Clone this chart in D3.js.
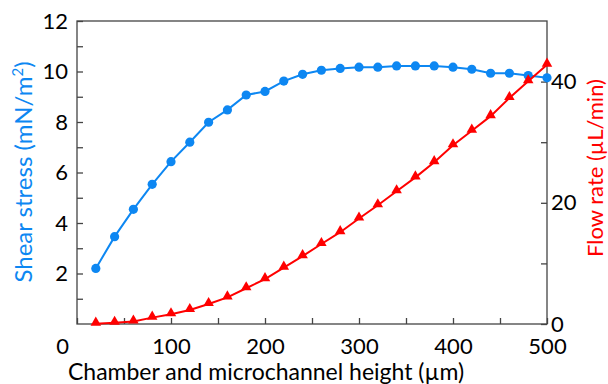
<!DOCTYPE html>
<html>
<head>
<meta charset="utf-8">
<script src="https://cdn.jsdelivr.net/npm/d3@7"></script>
<style>
  body { margin: 0; background: #fff; }
  text { font-family: Lato, "Open Sans", sans-serif; }
</style>
</head>
<body>
<div id="chart"></div>
<script>
// channel height (um)
var heights = [20, 40, 60, 80, 100, 120, 140, 160, 180, 200, 220, 240, 260,
               280, 300, 320, 340, 360, 380, 400, 420, 440, 460, 480, 500]
// shear stress (mN/m2), left axis
var shear = [2.2, 3.46, 4.54, 5.53, 6.43, 7.2, 7.99, 8.48, 9.07, 9.21, 9.62, 9.89, 10.05,
             10.12, 10.17, 10.17, 10.22, 10.22, 10.22, 10.17, 10.09, 9.93, 9.93, 9.84, 9.75]
// flow rate (uL/min), right axis
var flow = [0.05, 0.2, 0.4, 1.05, 1.6, 2.3, 3.3, 4.4, 5.9, 7.4, 9.3, 11.2, 13.2,
            15.15, 17.4, 19.6, 21.9, 24.2, 26.7, 29.5, 31.9, 34.3, 37.3, 40.05, 42.8]

var xTicks = [0, 100, 200, 300, 400, 500]
var leftTicks = [2, 4, 6, 8, 10, 12]
var rightTicks = [0, 20, 40]

var blue = '#0d87f2'
var red = '#ff0000'
var axisCol = '#444'

var svg = d3.select('#chart')
            .append('svg')
            .attr('width', 608)
            .attr('height', 384)

var pl = 77, pr = 547, pt = 21, pb = 324

var x = d3.scaleLinear().domain([0, 500]).range([pl, pr])
var yL = d3.scaleLinear().domain([0, 12]).range([pb, pt])
var yR = d3.scaleLinear().domain([0, 50]).range([pb, pt])

// frame
svg.append('rect')
   .attr('x', pl)
   .attr('y', pt)
   .attr('width', pr - pl)
   .attr('height', pb - pt)
   .attr('fill', 'none')
   .attr('stroke', axisCol)
   .attr('stroke-width', 1.3)

function styleAxis(g) {
  g.select('.domain').remove()
  g.selectAll('.tick line').attr('stroke', axisCol).attr('stroke-width', 1.3)
  g.selectAll('.tick text').attr('fill', '#000').style('font-size', '22px')
    .style('font-family', 'Lato, "Open Sans", sans-serif')
}

// bottom axis, ticks inward
var gx = svg.append('g')
   .attr('transform', 'translate(0,' + pb + ')')
   .call(d3.axisBottom(x).tickValues(d3.range(0, 501, 50)).tickSize(-6).tickPadding(14)
     .tickFormat(function(d){ return xTicks.indexOf(d) >= 0 ? d : '' }))
styleAxis(gx)
gx.selectAll('.tick text').filter(function(d){ return d == 0 }).attr('dx', -15)

// left axis
var gl = svg.append('g')
   .attr('transform', 'translate(' + pl + ',0)')
   .call(d3.axisLeft(yL).tickValues(d3.range(1, 13, 1)).tickSize(-6).tickPadding(9)
     .tickFormat(function(d){ return leftTicks.indexOf(d) >= 0 ? d : '' }))
styleAxis(gl)

// right axis
var gr = svg.append('g')
   .attr('transform', 'translate(' + pr + ',0)')
   .call(d3.axisRight(yR).tickValues(d3.range(0, 41, 10)).tickSize(-6).tickPadding(4)
     .tickFormat(function(d){ return rightTicks.indexOf(d) >= 0 ? d : '' }))
styleAxis(gr)

// shear stress line
var lineL = d3.line().x(function(d, i){ return x(heights[i]) }).y(function(d){ return yL(d) })
svg.append('path')
   .datum(shear)
   .attr('d', lineL)
   .attr('fill', 'none')
   .attr('stroke', blue)
   .attr('stroke-width', 2)

svg.selectAll('.dot')
   .data(shear)
   .enter().append('circle')
   .attr('cx', function(d, i){ return x(heights[i]) })
   .attr('cy', function(d){ return yL(d) })
   .attr('r', 4.6)
   .attr('fill', blue)

// flow rate line
var lineR = d3.line().x(function(d, i){ return x(heights[i]) }).y(function(d){ return yR(d) })
svg.append('path')
   .datum(flow)
   .attr('d', lineR)
   .attr('fill', 'none')
   .attr('stroke', red)
   .attr('stroke-width', 2)

var tri = d3.symbol().type(d3.symbolTriangle).size(48)
svg.selectAll('.tri')
   .data(flow)
   .enter().append('path')
   .attr('d', tri)
   .attr('transform', function(d, i){ return 'translate(' + x(heights[i]) + ',' + (yR(d) - 1) + ')' })
   .attr('fill', red)

// axis titles
svg.append('text')
   .attr('x', 266)
   .attr('y', 380)
   .attr('text-anchor', 'middle')
   .style('font-size', '23px')
   .text('Chamber and microchannel height (µm)')

var lt = svg.append('text')
   .attr('transform', 'translate(32,172) rotate(-90)')
   .attr('text-anchor', 'middle')
   .attr('fill', blue)
   .style('font-size', '24px')
lt.append('tspan').text('Shear stress (mN/m')
lt.append('tspan').attr('dy', -9).style('font-size', '15px').text('2')
lt.append('tspan').attr('dy', 9).text(')')

svg.append('text')
   .attr('transform', 'translate(603,168) rotate(-90)')
   .attr('text-anchor', 'middle')
   .attr('fill', red)
   .style('font-size', '22px')
   .text('Flow rate (µL/min)')
</script>
</body>
</html>
